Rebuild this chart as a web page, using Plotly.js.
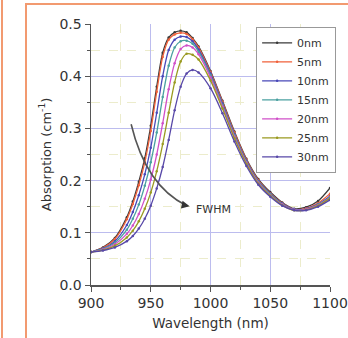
<!DOCTYPE html>
<html><head><meta charset="utf-8">
<script src="https://cdn.plot.ly/plotly-3.0.1.min.js"></script>
<style>
html,body{margin:0;padding:0;background:#fff;width:348px;height:338px;overflow:hidden;}
#f1{position:absolute;left:1px;top:0;width:2px;height:338px;background:#f29a70;}
#f2{position:absolute;left:25px;top:3px;width:400px;height:400px;border-left:2px solid #f29a70;border-top:2px solid #f29a70;}
#chart{position:absolute;left:0;top:0;width:348px;height:338px;}
</style></head>
<body>
<div id="f1"></div><div id="f2"></div>
<div id="chart"></div>
<script>
const wavelength = [900,910,920,930,935,940,945,950,955,960,965,970,975,980,985,990,1000,1010,1020,1030,1040,1050,1060,1070,1080,1090,1100];
const seriesNames = ['0nm','5nm','10nm','15nm','20nm','25nm','30nm'];
const abs0nm  = [0.063,0.072,0.090,0.130,0.160,0.198,0.243,0.305,0.380,0.445,0.474,0.484,0.487,0.484,0.473,0.457,0.410,0.353,0.294,0.242,0.203,0.178,0.158,0.146,0.149,0.161,0.186];
const abs5nm  = [0.063,0.071,0.088,0.126,0.155,0.191,0.235,0.295,0.370,0.437,0.470,0.480,0.483,0.481,0.471,0.455,0.408,0.351,0.292,0.240,0.201,0.176,0.157,0.145,0.147,0.157,0.175];
const abs10nm = [0.063,0.070,0.084,0.115,0.140,0.172,0.212,0.263,0.330,0.400,0.450,0.470,0.476,0.475,0.467,0.451,0.405,0.348,0.289,0.238,0.199,0.175,0.156,0.145,0.146,0.155,0.170];
const abs15nm = [0.063,0.069,0.081,0.106,0.127,0.154,0.190,0.235,0.292,0.360,0.420,0.455,0.467,0.468,0.462,0.447,0.402,0.345,0.287,0.236,0.198,0.174,0.155,0.144,0.145,0.154,0.168];
const abs20nm = [0.063,0.068,0.078,0.098,0.114,0.136,0.165,0.202,0.250,0.310,0.375,0.425,0.452,0.459,0.455,0.442,0.398,0.342,0.284,0.234,0.196,0.172,0.154,0.144,0.145,0.153,0.167];
const abs25nm = [0.063,0.067,0.075,0.091,0.104,0.122,0.146,0.177,0.218,0.270,0.330,0.388,0.428,0.443,0.441,0.432,0.392,0.338,0.281,0.232,0.194,0.171,0.153,0.143,0.144,0.152,0.166];
const abs30nm = [0.063,0.066,0.072,0.084,0.094,0.108,0.127,0.152,0.185,0.226,0.278,0.335,0.380,0.405,0.412,0.407,0.377,0.329,0.275,0.228,0.192,0.169,0.152,0.143,0.143,0.150,0.163];
const allSeries = [abs0nm,abs5nm,abs10nm,abs15nm,abs20nm,abs25nm,abs30nm];
const colors = ['#3a3a3a','#f0603a','#4848b8','#4aa0a0','#d050c8','#9a9a20','#5848a8'];

const traces = allSeries.map((ys,i)=>({
  x: wavelength, y: ys, name: seriesNames[i], type:'scatter', mode:'lines+markers',
  line:{color:colors[i], width:1.3, shape:'spline', smoothing:0.8},
  marker:{color:colors[i], size:2.5}
}));

const font = {family:'DejaVu Sans, Liberation Sans, Arial', color:'#333'};
const layout = {
  width:348, height:338,
  margin:{l:91, r:13, t:24, b:53},
  paper_bgcolor:'rgba(0,0,0,0)', plot_bgcolor:'rgba(0,0,0,0)',
  font: Object.assign({size:12}, font),
  showlegend:true,
  legend:{x:0.69, y:0.988, xanchor:'left', yanchor:'top', bgcolor:'#fff', bordercolor:'#999', borderwidth:1.2,
    font:Object.assign({size:11}, font), tracegroupgap:0, itemwidth:30},
  xaxis:{range:[900,1100], dtick:50, tick0:900, showline:true, linecolor:'#555', linewidth:1.5,
    ticks:'outside', ticklen:5, tickcolor:'#555', tickfont:Object.assign({size:14}, font),
    showgrid:true, gridcolor:'#bcbcee', gridwidth:1, zeroline:false,
    minor:{dtick:25, ticks:'outside', ticklen:3, tickcolor:'#555', showgrid:true, gridcolor:'#ececcc', griddash:'dash', gridwidth:1},
    title:{text:'Wavelength (nm)', font:Object.assign({size:13.5}, font), standoff:8}},
  yaxis:{range:[0,0.5], dtick:0.1, tick0:0, tickformat:'.1f', showline:true, linecolor:'#555', linewidth:1.5,
    ticks:'outside', ticklen:5, tickcolor:'#555', tickfont:Object.assign({size:14}, font),
    showgrid:true, gridcolor:'#bcbcee', gridwidth:1, zeroline:false,
    minor:{dtick:0.05, ticks:'outside', ticklen:3, tickcolor:'#555', showgrid:true, gridcolor:'#ececcc', griddash:'dash', gridwidth:1},
    title:{text:'Absorption (cm<sup>-1</sup>)', font:Object.assign({size:13}, font), standoff:5}},
  shapes:[
    {type:'path', xref:'x', yref:'y', path:'M 933.6 0.308 Q 946 0.19 980 0.152', line:{color:'#555', width:1.6}}
  ],
  annotations:[
    {x:982.5, y:0.151, ax:976, ay:0.154, axref:'x', ayref:'y', xref:'x', yref:'y', text:' ', showarrow:true,
     arrowhead:2, arrowsize:1, arrowwidth:1.6, arrowcolor:'#333'},
    {x:986, y:0.144, xref:'x', yref:'y', text:'FWHM', showarrow:false, xanchor:'left', yanchor:'middle',
     font:Object.assign({size:11}, font)}
  ]
};
Plotly.newPlot('chart', traces, layout, {displayModeBar:false, staticPlot:true});
</script>
</body></html>
